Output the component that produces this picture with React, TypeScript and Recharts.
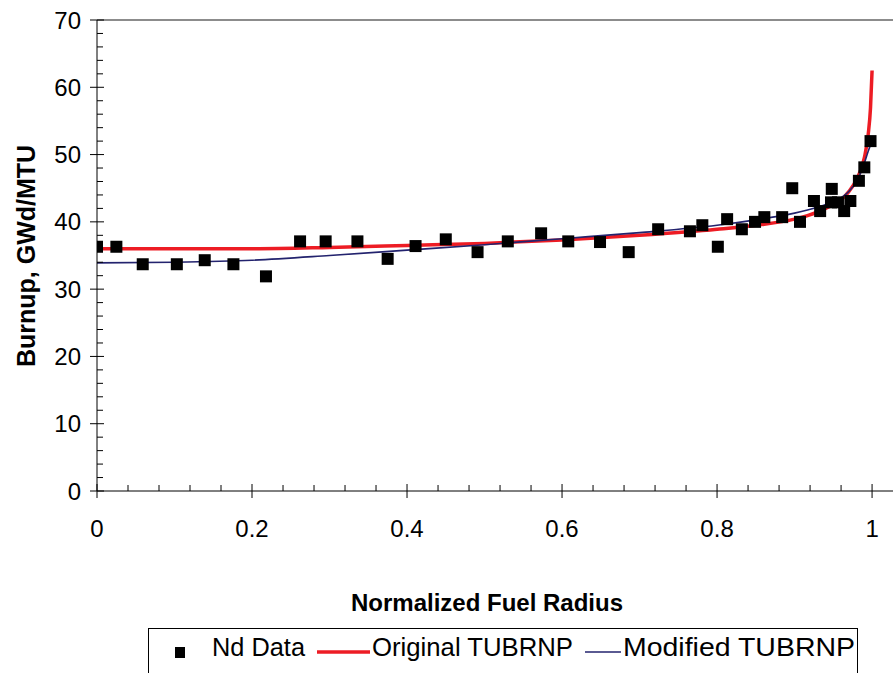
import { ComposedChart, Line, Scatter, XAxis, YAxis, ReferenceLine } from 'recharts'

// Nd measurement points (normalized radius, burnup GWd/MTU)
const ndRadius = [
  0, 0.025, 0.059, 0.103, 0.139, 0.176, 0.218, 0.262, 0.295, 0.336,
  0.375, 0.411, 0.45, 0.491, 0.53, 0.573, 0.608, 0.649, 0.686, 0.724,
  0.765, 0.781, 0.801, 0.813, 0.832, 0.849, 0.861, 0.884, 0.897, 0.907,
  0.925, 0.933, 0.947, 0.948, 0.956, 0.964, 0.972, 0.983, 0.99, 0.998,
]
const ndBurnup = [
  36.3, 36.3, 33.7, 33.7, 34.3, 33.7, 31.9, 37.1, 37.1, 37.1,
  34.5, 36.4, 37.4, 35.5, 37.1, 38.3, 37.1, 37.0, 35.5, 38.9,
  38.6, 39.5, 36.3, 40.4, 38.9, 40.0, 40.7, 40.7, 45.0, 40.0,
  43.1, 41.6, 42.9, 44.9, 42.9, 41.6, 43.1, 46.1, 48.1, 52.0,
]

// Original TUBRNP curve
const origRadius = [0, 0.1, 0.2, 0.3, 0.4, 0.5, 0.6, 0.7, 0.8, 0.85, 0.9, 0.93, 0.95, 0.96, 0.97, 0.98, 0.99, 0.995, 0.998, 1.0]
const origBurnup = [36.0, 36.0, 36.0, 36.2, 36.5, 36.8, 37.3, 38.0, 38.9, 39.5, 40.4, 41.5, 42.6, 43.3, 44.5, 46.3, 49.5, 53.0, 57.0, 62.5]

// Modified TUBRNP curve
const modRadius = [0, 0.1, 0.2, 0.3, 0.4, 0.5, 0.6, 0.7, 0.8, 0.85, 0.9, 0.93, 0.95, 0.97, 0.98, 0.99, 0.995, 1.0]
const modBurnup = [33.9, 34.0, 34.3, 35.0, 35.8, 36.6, 37.5, 38.4, 39.5, 40.3, 41.3, 42.2, 43.0, 44.5, 46.0, 48.7, 50.5, 52.0]

const xTicks = [
  0, 0.04, 0.08, 0.12, 0.16, 0.2, 0.24, 0.28, 0.32, 0.36, 0.4, 0.44, 0.48, 0.52, 0.56, 0.6,
  0.64, 0.68, 0.72, 0.76, 0.8, 0.84, 0.88, 0.92, 0.96, 1,
]
const yTicks = [
  0, 2, 4, 6, 8, 10, 12, 14, 16, 18, 20, 22, 24, 26, 28, 30, 32, 34, 36, 38, 40,
  42, 44, 46, 48, 50, 52, 54, 56, 58, 60, 62, 64, 66, 68, 70,
]

const RED = '#ed1c24'
const NAVY = '#23236e'
const FONT = '"Liberation Sans", Arial, sans-serif'

const ndData = ndRadius.map((x, i) => ({ x, y: ndBurnup[i] }))
const origData = origRadius.map((x, i) => ({ x, y: origBurnup[i] }))
const modData = modRadius.map((x, i) => ({ x, y: modBurnup[i] }))

const isMajorX = (v: number) => Math.abs(v * 5 - Math.round(v * 5)) < 1e-6

function XTick(props: any) {
  const { x, y, payload } = props
  const v = payload.value
  if (isMajorX(v)) {
    return (
      <g>
        <line x1={x} x2={x} y1={y - 7} y2={y + 7} stroke="#000" />
        <text x={x} y={y + 46} textAnchor="middle" fontSize={24} fontFamily={FONT} fill="#000">
          {Number(v.toFixed(1))}
        </text>
      </g>
    )
  }
  return <line x1={x} x2={x} y1={y - 6} y2={y} stroke="#000" />
}

function YTick(props: any) {
  const { x, y, payload } = props
  const v = payload.value
  if (v % 10 === 0) {
    return (
      <g>
        <line x1={x - 7} x2={x + 7} y1={y} y2={y} stroke="#000" />
        <text x={x - 16} y={y + 8.5} textAnchor="end" fontSize={24} fontFamily={FONT} fill="#000">
          {v}
        </text>
      </g>
    )
  }
  return <line x1={x} x2={x + 6} y1={y} y2={y} stroke="#000" />
}

const square = (props: any) => {
  const { cx, cy } = props
  return <rect x={cx - 6} y={cy - 6} width={12} height={12} fill="#000" />
}

export default function App() {
  return (
    <div style={{ position: 'absolute', left: 0, top: 0, width: 893, height: 673, background: '#fff', overflow: 'hidden' }}>
      <ComposedChart width={893} height={673} margin={{ top: 20, right: 0, left: 0, bottom: 0 }}>
        <XAxis
          dataKey="x"
          type="number"
          domain={[0, 1.027]}
          allowDataOverflow
          ticks={xTicks}
          interval={0}
          tickSize={0}
          tickMargin={0}
          tickLine={false}
          tick={<XTick />}
          height={182}
          axisLine={{ stroke: '#000' }}
          label={{
            content: () => (
              <text x={487} y={611} textAnchor="middle" fontSize={24} fontWeight="bold" fontFamily={FONT} fill="#000">
                Normalized Fuel Radius
              </text>
            ),
          }}
        />
        <YAxis
          dataKey="y"
          type="number"
          domain={[0, 70]}
          ticks={yTicks}
          interval={0}
          tickSize={0}
          tickMargin={0}
          tickLine={false}
          tick={<YTick />}
          width={97}
          axisLine={{ stroke: '#000' }}
          label={{
            content: () => (
              <text
                x={35}
                y={256}
                transform="rotate(-90 35 256)"
                textAnchor="middle"
                fontSize={25}
                fontWeight="bold"
                fontFamily={FONT}
                fill="#000"
              >
                Burnup, GWd/MTU
              </text>
            ),
          }}
        />
        <ReferenceLine y={70} stroke="#8c8c8c" strokeWidth={2} />
        <Line
          data={origData}
          dataKey="y"
          type="monotoneX"
          stroke={RED}
          strokeWidth={3.5}
          dot={false}
          activeDot={false}
          isAnimationActive={false}
        />
        <Line
          data={modData}
          dataKey="y"
          type="monotoneX"
          stroke={NAVY}
          strokeWidth={1.6}
          dot={false}
          activeDot={false}
          isAnimationActive={false}
        />
        <Scatter data={ndData} dataKey="y" shape={square} isAnimationActive={false} />
      </ComposedChart>

      {/* legend box, partly cut off at the bottom like the source */}
      <svg width={893} height={673} style={{ position: 'absolute', left: 0, top: 0, pointerEvents: 'none' }}>
        <rect x={148.5} y={628.5} width={709} height={60} fill="none" stroke="#000" />
        <rect x={175} y={647} width={10} height={11} fill="#000" />
        <text x={212} y={656} fontSize={26} fontFamily={FONT} fill="#000" textLength={93} lengthAdjust="spacingAndGlyphs">
          Nd Data
        </text>
        <line x1={317} x2={370} y1={652} y2={652} stroke={RED} strokeWidth={3.5} />
        <text x={372} y={656} fontSize={26} fontFamily={FONT} fill="#000" textLength={201} lengthAdjust="spacingAndGlyphs">
          Original TUBRNP
        </text>
        <line x1={585} x2={621} y1={652} y2={652} stroke={NAVY} strokeWidth={1.6} />
        <text x={623} y={656} fontSize={26} fontFamily={FONT} fill="#000" textLength={232} lengthAdjust="spacingAndGlyphs">
          Modified TUBRNP
        </text>
      </svg>
    </div>
  )
}
